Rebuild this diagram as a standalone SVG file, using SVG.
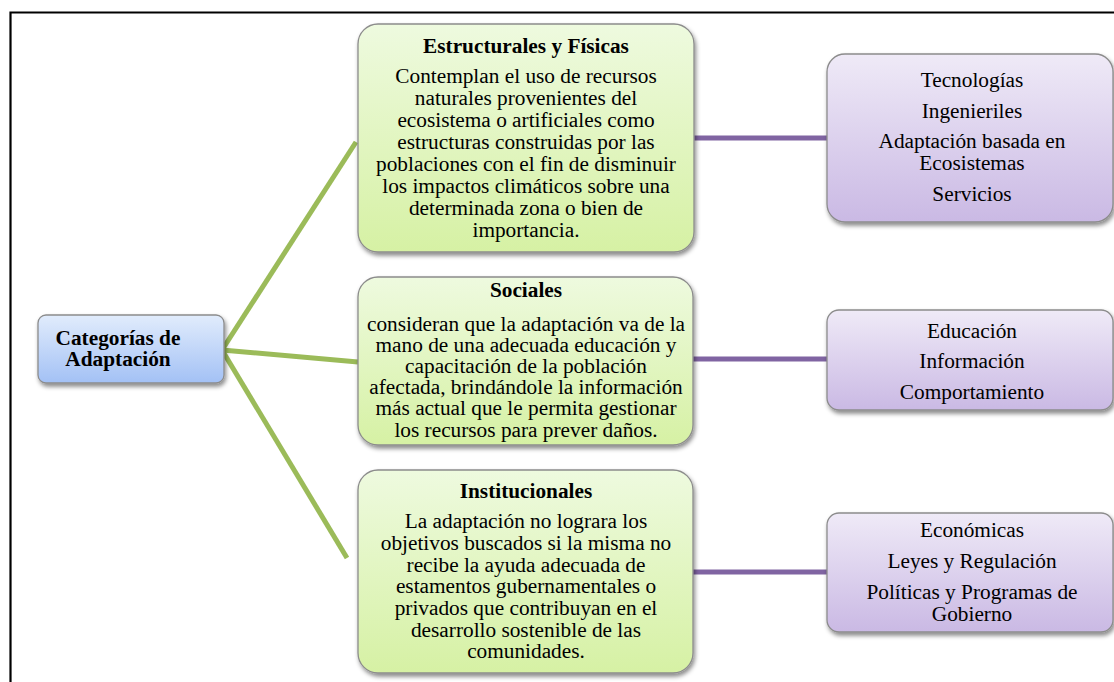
<svg xmlns="http://www.w3.org/2000/svg" width="1114" height="682" viewBox="0 0 1114 682">
<defs>
<linearGradient id="gGreen" x1="0" y1="0" x2="0" y2="1"><stop offset="0" stop-color="#eefadf"/><stop offset="1" stop-color="#d6f1a4"/></linearGradient>
<linearGradient id="gPurple" x1="0" y1="0" x2="0" y2="1"><stop offset="0" stop-color="#efeaf7"/><stop offset="1" stop-color="#cab9e4"/></linearGradient>
<linearGradient id="gBlue" x1="0" y1="0" x2="0" y2="1"><stop offset="0" stop-color="#e1ecfc"/><stop offset="1" stop-color="#a3c1f5"/></linearGradient>
<filter id="sh" x="-10%" y="-10%" width="130%" height="130%"><feDropShadow dx="1.5" dy="3" stdDeviation="2" flood-color="#000" flood-opacity="0.45"/></filter>
</defs>
<style>
.t{font-family:"Liberation Serif","Times New Roman",serif;font-size:21.3px;fill:#000;text-anchor:middle}
.b{font-weight:bold}
.box{stroke:#8c8c8c;stroke-width:1.3;filter:url(#sh)}
.gl{stroke:#9bbb59;stroke-width:5;fill:none;stroke-linecap:butt}
.pl{stroke:#8064a2;stroke-width:5;fill:none}
</style>
<rect width="1114" height="682" fill="#fff"/>
<path d="M10.5 690 V12.5 H1120" fill="none" stroke="#000" stroke-width="2.2"/>
<g id="connectors">
<line class="gl" x1="222" y1="350" x2="356" y2="142"/>
<line class="gl" x1="222" y1="350" x2="358" y2="362"/>
<line class="gl" x1="222" y1="350" x2="347" y2="558"/>
<line class="pl" x1="693" y1="138" x2="827" y2="138"/>
<line class="pl" x1="693" y1="359" x2="827" y2="359"/>
<line class="pl" x1="693" y1="572" x2="827" y2="572"/>
</g>
<g id="root">
<rect class="box" x="38" y="315" width="186" height="68" rx="8" fill="url(#gBlue)"/>
<text class="t b" x="118" y="345">Categorías de</text>
<text class="t b" x="118" y="366">Adaptación</text>
</g>
<g id="estructurales">
<rect class="box" x="358" y="24" width="336" height="228" rx="20" fill="url(#gGreen)"/>
<text class="t b" x="526" y="53">Estructurales y Físicas</text>
<text class="t" x="526" y="83.3">Contemplan el uso de recursos</text>
<text class="t" x="526" y="105.2">naturales provenientes del</text>
<text class="t" x="526" y="127.1">ecosistema o artificiales como</text>
<text class="t" x="526" y="149">estructuras construidas por las</text>
<text class="t" x="526" y="170.9">poblaciones con el fin de disminuir</text>
<text class="t" x="526" y="192.8">los impactos climáticos sobre una</text>
<text class="t" x="526" y="214.7">determinada zona o bien de</text>
<text class="t" x="526" y="236.6">importancia.</text>
</g>
<g id="sociales">
<rect class="box" x="358" y="277" width="335" height="168" rx="20" fill="url(#gGreen)"/>
<text class="t b" x="526" y="297">Sociales</text>
<text class="t" x="526" y="330.5">consideran que la adaptación va de la</text>
<text class="t" x="526" y="351.7">mano de una adecuada educación y</text>
<text class="t" x="526" y="372.9">capacitación de la población</text>
<text class="t" x="526" y="394.1">afectada, brindándole la información</text>
<text class="t" x="526" y="415.3">más actual que le permita gestionar</text>
<text class="t" x="526" y="436.5">los recursos para prever daños.</text>
</g>
<g id="institucionales">
<rect class="box" x="358" y="470" width="335" height="203" rx="20" fill="url(#gGreen)"/>
<text class="t b" x="526" y="498">Institucionales</text>
<text class="t" x="526" y="528.3">La adaptación no lograra los</text>
<text class="t" x="526" y="550">objetivos buscados si la misma no</text>
<text class="t" x="526" y="571.7">recibe la ayuda adecuada de</text>
<text class="t" x="526" y="593.3">estamentos gubernamentales o</text>
<text class="t" x="526" y="615">privados que contribuyan en el</text>
<text class="t" x="526" y="636.7">desarrollo sostenible de las</text>
<text class="t" x="526" y="658.3">comunidades.</text>
</g>
<g id="tipos-estructurales">
<rect class="box" x="827" y="54" width="286" height="168" rx="18" fill="url(#gPurple)"/>
<text class="t" x="972" y="87">Tecnologías</text>
<text class="t" x="972" y="118">Ingenieriles</text>
<text class="t" x="972" y="148">Adaptación basada en</text>
<text class="t" x="972" y="170">Ecosistemas</text>
<text class="t" x="972" y="201">Servicios</text>
</g>
<g id="tipos-sociales">
<rect class="box" x="827" y="310" width="286" height="100" rx="12" fill="url(#gPurple)"/>
<text class="t" x="972" y="338">Educación</text>
<text class="t" x="972" y="368">Información</text>
<text class="t" x="972" y="399">Comportamiento</text>
</g>
<g id="tipos-institucionales">
<rect class="box" x="827" y="513" width="286" height="119" rx="12" fill="url(#gPurple)"/>
<text class="t" x="972" y="537">Económicas</text>
<text class="t" x="972" y="568">Leyes y Regulación</text>
<text class="t" x="972" y="599">Políticas y Programas de</text>
<text class="t" x="972" y="621">Gobierno</text>
</g>
</svg>
